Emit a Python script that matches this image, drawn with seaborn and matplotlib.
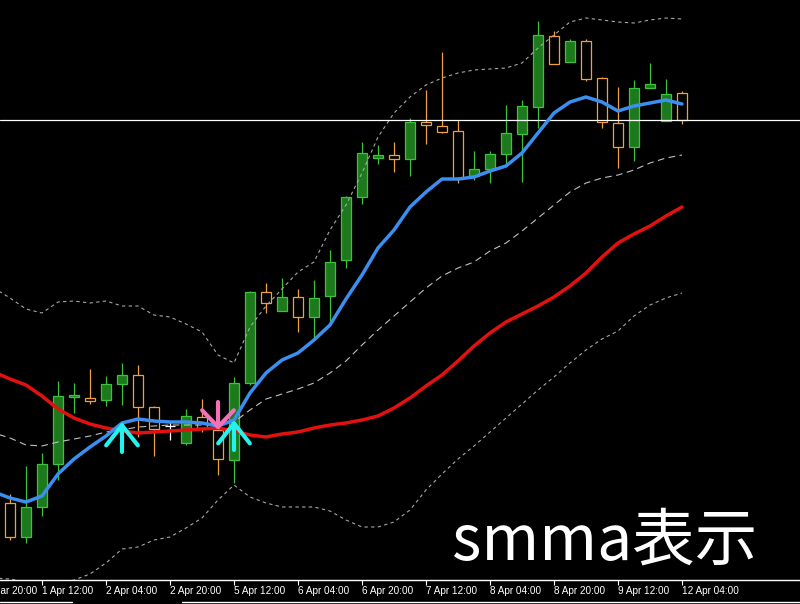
import numpy as np
import pandas as pd
import matplotlib
matplotlib.use("Agg")
import matplotlib.pyplot as plt
from matplotlib.lines import Line2D
import seaborn as sns

# ---------------- data (4H candles, 1 Apr 04:00 .. 12 Apr 04:00) ----------------
opens = [1.1497, 1.1463, 1.1493, 1.1536, 1.1603, 1.1602, 1.1600, 1.1616, 1.1625, 1.1593,
         1.1574, 1.1557, 1.1583, 1.1570, 1.1540, 1.1617, 1.1708, 1.1689, 1.1703, 1.1683,
         1.1704, 1.1740, 1.1803, 1.1842, 1.1845, 1.1841, 1.1878, 1.1874, 1.1869, 1.1824,
         1.1831, 1.1846, 1.1866, 1.1893, 1.1964, 1.1938, 1.1959, 1.1922, 1.1877, 1.1853,
         1.1912, 1.1879, 1.1907]
highs = [1.1506, 1.1534, 1.1547, 1.1619, 1.1617, 1.1631, 1.1624, 1.1637, 1.1635, 1.1594,
         1.1579, 1.1591, 1.1601, 1.1588, 1.1623, 1.1709, 1.1717, 1.1722, 1.1711, 1.1720,
         1.1750, 1.1804, 1.1858, 1.1855, 1.1858, 1.1882, 1.1910, 1.1948, 1.1880, 1.1849,
         1.1849, 1.1895, 1.1900, 1.1979, 1.1969, 1.1961, 1.1961, 1.1923, 1.1913, 1.1920,
         1.1937, 1.1921, 1.1909]
lows = [1.1460, 1.1457, 1.1484, 1.1520, 1.1587, 1.1596, 1.1594, 1.1595, 1.1563, 1.1544,
        1.1560, 1.1555, 1.1568, 1.1525, 1.1517, 1.1615, 1.1687, 1.1689, 1.1668, 1.1662,
        1.1678, 1.1732, 1.1796, 1.1836, 1.1828, 1.1824, 1.1856, 1.1867, 1.1817, 1.1820,
        1.1817, 1.1835, 1.1818, 1.1872, 1.1936, 1.1938, 1.1919, 1.1872, 1.1832, 1.1839,
        1.1912, 1.1879, 1.1876]
closes = [1.1463, 1.1493, 1.1536, 1.1604, 1.1605, 1.1599, 1.1616, 1.1625, 1.1593, 1.1571,
          1.1574, 1.1584, 1.1572, 1.1541, 1.1617, 1.1708, 1.1697, 1.1703, 1.1683, 1.1702,
          1.1738, 1.1803, 1.1847, 1.1845, 1.1841, 1.1878, 1.1875, 1.1868, 1.1821, 1.1831,
          1.1846, 1.1867, 1.1894, 1.1965, 1.1936, 1.1959, 1.1921, 1.1878, 1.1853, 1.1912,
          1.1916, 1.1906, 1.1880]

# indicator values for bars -1 .. 42
line_x = list(range(-1, 43))
smma_fast = [1.1508, 1.1502, 1.1498, 1.1504, 1.1526, 1.1541, 1.1553, 1.1564, 1.1577, 1.1581,
             1.1579, 1.1578, 1.1578, 1.1577, 1.1574, 1.1580, 1.1607, 1.1627, 1.1640, 1.1647,
             1.1660, 1.1675, 1.1701, 1.1725, 1.1752, 1.1770, 1.1793, 1.1808, 1.1821, 1.1821,
             1.1823, 1.1829, 1.1834, 1.1847, 1.1867, 1.1887, 1.1898, 1.1903, 1.1898, 1.1889,
             1.1894, 1.1897, 1.1900, 1.1896]
smma_slow = [1.1628, 1.1621, 1.1615, 1.1604, 1.1591, 1.1582, 1.1576, 1.1572, 1.1569, 1.1567,
             1.1568, 1.1569, 1.1570, 1.1571, 1.1572, 1.1569, 1.1565, 1.1563, 1.1566, 1.1568,
             1.1572, 1.1575, 1.1577, 1.1580, 1.1584, 1.1592, 1.1602, 1.1614, 1.1625, 1.1639,
             1.1654, 1.1667, 1.1678, 1.1686, 1.1694, 1.1703, 1.1714, 1.1727, 1.1743, 1.1757,
             1.1766, 1.1774, 1.1784, 1.1793]
bb_upper = [1.1712, 1.1702, 1.1691, 1.1687, 1.1698, 1.1699, 1.1697, 1.1699, 1.1694, 1.1694,
            1.1685, 1.1683, 1.1676, 1.1668, 1.1645, 1.1637, 1.1673, 1.1694, 1.1711, 1.1728,
            1.1738, 1.1770, 1.1795, 1.1827, 1.1863, 1.1887, 1.1903, 1.1915, 1.1922, 1.1927,
            1.1930, 1.1931, 1.1932, 1.1937, 1.1952, 1.1965, 1.1978, 1.1982, 1.1980, 1.1978,
            1.1977, 1.1980, 1.1982, 1.1981]
bb_middle = [1.1567, 1.1562, 1.1555, 1.1554, 1.1558, 1.1561, 1.1564, 1.1568, 1.1570, 1.1573,
             1.1574, 1.1575, 1.1575, 1.1575, 1.1576, 1.1578, 1.1590, 1.1601, 1.1606, 1.1611,
             1.1617, 1.1627, 1.1639, 1.1655, 1.1670, 1.1684, 1.1698, 1.1712, 1.1724, 1.1732,
             1.1738, 1.1749, 1.1757, 1.1769, 1.1782, 1.1795, 1.1808, 1.1817, 1.1822, 1.1825,
             1.1830, 1.1837, 1.1842, 1.1845]
bb_lower = [1.1422, 1.1421, 1.1418, 1.1418, 1.1418, 1.1420, 1.1426, 1.1437, 1.1451, 1.1453,
            1.1460, 1.1463, 1.1472, 1.1482, 1.1500, 1.1515, 1.1503, 1.1497, 1.1493, 1.1493,
            1.1493, 1.1489, 1.1480, 1.1473, 1.1473, 1.1478, 1.1490, 1.1510, 1.1526, 1.1541,
            1.1554, 1.1568, 1.1582, 1.1596, 1.1610, 1.1623, 1.1637, 1.1650, 1.1661, 1.1669,
            1.1684, 1.1695, 1.1702, 1.1707]

price_level = 1.1880
buy_idx = [7, 14]
buy_price = [1.1578, 1.1580]
sell_idx = [13]
sell_price = [1.1570]

tick_idx = [-2, 2, 6, 10, 14, 18, 22, 26, 30, 34, 38, 42]
tick_labels = ["31 Mar 20:00", "1 Apr 12:00", "2 Apr 04:00", "2 Apr 20:00", "5 Apr 12:00",
               "6 Apr 04:00", "6 Apr 20:00", "7 Apr 12:00", "8 Apr 04:00", "8 Apr 20:00",
               "9 Apr 12:00", "12 Apr 04:00"]
title_text = "smma表示"

# ---------------- style ----------------
sns.set_theme(style="dark", rc={"axes.facecolor": "black", "figure.facecolor": "black",
                                "savefig.facecolor": "black"})
plt.rcParams["font.family"] = ["Liberation Sans", "DejaVu Sans"]

W, H = 800, 604
fig = plt.figure(figsize=(W / 100, H / 100), dpi=100)
ax = fig.add_axes([0, 24 / H, 1, 580 / H])
ax.set_facecolor("black")

BULL_FILL = "#1c7a1c"
BULL_EDGE = "#3cc23c"
BEAR_EDGE = "#f0a040"

df = pd.DataFrame({"i": np.arange(len(opens)), "o": opens, "h": highs, "l": lows, "c": closes})
edge = np.where(df.c > df.o, BULL_EDGE, np.where(df.c < df.o, BEAR_EDGE, "white"))
fill = np.where(df.c > df.o, BULL_FILL, "black")

# wicks
ax.vlines(df.i, df.l, df.h, colors=edge, lw=0.9, zorder=2)
# bodies
body_lo = np.minimum(df.o, df.c)
body_h = np.abs(df.c - df.o)
mask = body_h > 0
ax.bar(df.i[mask], body_h[mask], bottom=body_lo[mask], width=0.6,
       color=fill[mask], edgecolor=edge[mask], linewidth=0.9, zorder=3)
for i, o in zip(df.i[~mask], df.o[~mask]):
    ax.hlines(o, i - 0.3, i + 0.3, colors="white", lw=0.9, zorder=3)

# indicators
lines = pd.DataFrame({"i": line_x, "fast": smma_fast, "slow": smma_slow,
                      "up": bb_upper, "mid": bb_middle, "low": bb_lower})
sns.lineplot(data=lines, x="i", y="up", ax=ax, color="#a8a8a8", lw=0.8, zorder=4)
ax.lines[-1].set_dashes((3, 3))
sns.lineplot(data=lines, x="i", y="low", ax=ax, color="#a8a8a8", lw=0.8, zorder=4)
ax.lines[-1].set_dashes((3, 3))
sns.lineplot(data=lines, x="i", y="mid", ax=ax, color="#c0c0c0", lw=0.8, zorder=4)
ax.lines[-1].set_dashes((6, 4))
sns.lineplot(data=lines, x="i", y="slow", ax=ax, color="#e31010", lw=2.5, zorder=5)
sns.lineplot(data=lines, x="i", y="fast", ax=ax, color="#3b8ff0", lw=2.5, zorder=6)

# current price line
ax.axhline(price_level, color="white", lw=0.9, zorder=5)

# signal arrows
for i, p in zip(buy_idx, buy_price):
    ax.annotate("", xy=(i, p), xytext=(0, -30), textcoords="offset pixels",
                arrowprops=dict(arrowstyle="->,head_length=1.2,head_width=0.95",
                                color="#25f2ee", lw=3, shrinkA=0, shrinkB=0), zorder=8)
for i, p in zip(sell_idx, sell_price):
    ax.annotate("", xy=(i, p), xytext=(0, 28), textcoords="offset pixels",
                arrowprops=dict(arrowstyle="->,head_length=1.0,head_width=0.95",
                                color="#f470b8", lw=3, shrinkA=0, shrinkB=0), zorder=7)

TICK_LEN, TICK_PAD, TICK_FS = 3.5, 0.5, 7.2
ax.set_xlabel("")
ax.set_ylabel("")
ax.set_yticks([])
ax.set_xticks(tick_idx)
ax.set_xticklabels(tick_labels, ha="left", color="white", fontsize=TICK_FS)
ax.tick_params(axis="x", direction="out", length=TICK_LEN, width=0.8, color="white",
               pad=TICK_PAD, bottom=True)
ax.set_xlim(-0.625, 49.375)
ax.set_ylim(1.1420, 1.2000)
ax.grid(False)
for s in ["left", "right", "top"]:
    ax.spines[s].set_visible(False)
ax.spines["bottom"].set_visible(True)
ax.spines["bottom"].set_color("white")
ax.spines["bottom"].set_linewidth(1)

# labels of ticks lying just outside the visible range (partially shown)
xmin, xmax = ax.get_xlim()
for t, lab in zip(tick_idx, tick_labels):
    if t < xmin:
        ax.annotate(lab, xy=(t, 0), xycoords=("data", "axes fraction"),
                    xytext=(0, -(TICK_LEN + TICK_PAD)), textcoords="offset points",
                    ha="left", va="top", color="white", fontsize=TICK_FS,
                    annotation_clip=False)

# window frame line at the bottom
fig.add_artist(Line2D([0, 72 / W], [2 / H, 2 / H], color="white", lw=1))
fig.add_artist(Line2D([182 / W, 1], [2 / H, 2 / H], color="white", lw=1))

fig.text(452 / W, (H - 560) / H, title_text, color="white", fontsize=45,
         family=["Noto Sans CJK JP", "DejaVu Sans"], ha="left", va="baseline")

fig.savefig("out.png", dpi=100, facecolor="black")
